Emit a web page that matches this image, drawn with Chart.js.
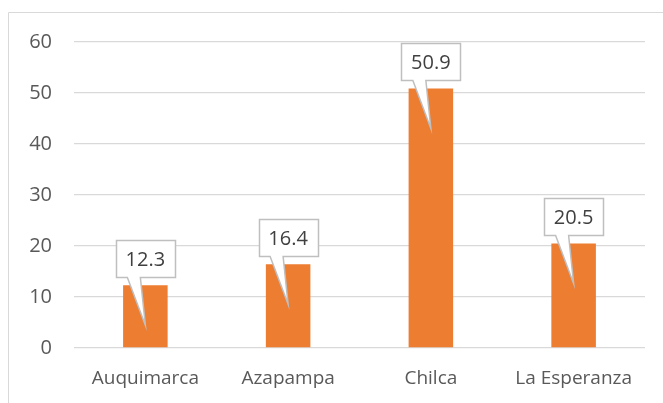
<!DOCTYPE html>
<html>
<head>
<meta charset="utf-8">
<script src="https://cdn.jsdelivr.net/npm/chart.js@4"></script>
<style>
  html, body { margin: 0; padding: 0; background: #fff; }
  #wrap { position: relative; width: 663px; height: 403px; }
</style>
</head>
<body>
<div id="wrap"><canvas id="chart" width="663" height="403"></canvas></div>
<script>
// ------ Data ------
const categories = ['Auquimarca', 'Azapampa', 'Chilca', 'La Esperanza'];
const values     = [12.3, 16.4, 50.9, 20.5];
const yTicks     = [0, 10, 20, 30, 40, 50, 60];

const FONT = '"Open Sans", "Noto Sans", sans-serif';
const TEXT = '#595959';

// outer chart border (Excel frame, runs past right/bottom edge)
const framePlugin = {
  id: 'frame',
  beforeDraw(chart) {
    const c = chart.ctx;
    c.save();
    c.strokeStyle = '#d9d9d9';
    c.lineWidth = 1;
    c.beginPath();
    c.moveTo(8.5, chart.height + 5);
    c.lineTo(8.5, 12.5);
    c.lineTo(chart.width + 5, 12.5);
    c.stroke();
    c.restore();
  }
};

// callout data labels
const calloutPlugin = {
  id: 'callouts',
  afterDatasetsDraw(chart) {
    const c = chart.ctx;
    const meta = chart.getDatasetMeta(0);
    const y = chart.scales.y;
    c.save();
    c.font = '20px ' + FONT;
    c.textAlign = 'center';
    c.textBaseline = 'middle';
    meta.data.forEach((bar, i) => {
      const cx = bar.x;
      const top = y.getPixelForValue(values[i]);
      const w = 59, h = 37;
      const bx = Math.round(cx - w / 2) + 0.5;
      const by = Math.round(top - 8 - h) + 0.5;
      const tipX = cx, tipY = top + 40;
      c.beginPath();
      c.moveTo(bx, by);
      c.lineTo(bx + w, by);
      c.lineTo(bx + w, by + h);
      c.lineTo(cx - 5, by + h);
      c.lineTo(tipX, tipY);
      c.lineTo(cx - 18, by + h);
      c.lineTo(bx, by + h);
      c.closePath();
      c.fillStyle = '#ffffff';
      c.fill();
      c.strokeStyle = '#bfbfbf';
      c.lineWidth = 1.5;
      c.stroke();
      c.fillStyle = '#404040';
      c.fillText(values[i].toFixed(1), cx, by + h / 2 + 1);
    });
    c.restore();
  }
};

new Chart(document.getElementById('chart'), {
  type: 'bar',
  data: {
    labels: categories,
    datasets: [{
      data: values,
      backgroundColor: '#ED7D31',
      categoryPercentage: 1,
      barPercentage: 0.312
    }]
  },
  options: {
    responsive: false,
    animation: false,
    layout: { padding: { left: 0, right: 18, top: 42, bottom: 0 } },
    plugins: { legend: { display: false }, tooltip: { enabled: false } },
    scales: {
      x: {
        afterFit(scale) { scale.height = 55; },
        grid: { display: false, drawTicks: false },
        border: { display: false },
        ticks: { color: TEXT, font: { family: FONT, size: 19 }, padding: 19 }
      },
      y: {
        min: 0, max: 60,
        afterFit(scale) { scale.width = 74; },
        afterBuildTicks(scale) { scale.ticks = yTicks.map(v => ({ value: v })); },
        grid: { color: '#d9d9d9', lineWidth: 1.3, drawTicks: false },
        border: { display: false },
        ticks: { color: TEXT, font: { family: FONT, size: 20 }, padding: 22 }
      }
    }
  },
  plugins: [framePlugin, calloutPlugin]
});
</script>
</body>
</html>
